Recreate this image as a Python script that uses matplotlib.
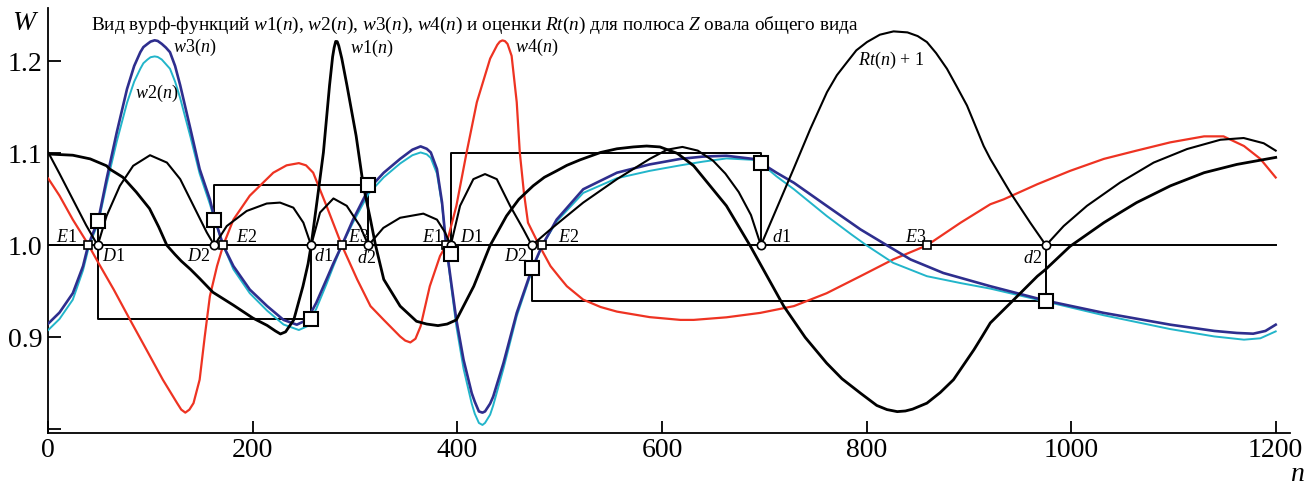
import matplotlib
matplotlib.use("Agg")
import matplotlib.pyplot as plt

plt.rcParams.update({
    "font.family": "Liberation Serif",
    "mathtext.fontset": "custom",
    "mathtext.rm": "Liberation Serif",
    "mathtext.it": "Liberation Serif:italic",
    "mathtext.bf": "Liberation Serif:bold",
})

# w1(n), black
n_w1 = [0, 24, 41, 57, 60, 73, 86, 99, 108, 116, 124, 130, 139, 148, 161, 181, 200, 214, 222,
        227, 232, 240, 249, 254, 257, 263, 269, 275, 278, 279.5, 281, 282.5, 284, 287, 292, 301,
        308, 315, 320, 328, 344, 360, 370, 381, 390, 399, 416, 432, 448, 460, 474, 485, 497, 507,
        520, 540, 556, 572, 585, 598, 615, 631, 663, 686, 700, 719, 740, 761, 776, 794, 810, 820,
        830, 838, 845, 859, 872, 885, 905, 913, 921, 934, 944, 967, 975, 999, 1032, 1048, 1064,
        1097, 1130, 1162, 1200]
w1 = [1.0993, 1.098, 1.094, 1.0865, 1.083, 1.074, 1.058, 1.040, 1.02, 1.0, 0.99, 0.983, 0.974,
      0.964, 0.949, 0.935, 0.921, 0.913, 0.907, 0.9037, 0.906, 0.919, 0.9556, 0.98, 1.0, 1.05,
      1.101, 1.174, 1.205, 1.215, 1.2217, 1.2215, 1.217, 1.203, 1.174, 1.119, 1.065, 1.028, 1.0,
      0.963, 0.934, 0.9175, 0.9145, 0.9128, 0.9145, 0.919, 0.9556, 1.0, 1.032, 1.05, 1.0647,
      1.074, 1.081, 1.087, 1.093, 1.101, 1.105, 1.107, 1.108, 1.107, 1.1, 1.0865, 1.043, 1.0,
      0.972, 0.934, 0.9, 0.872, 0.855, 0.8394, 0.826, 0.8215, 0.8193, 0.820, 0.822, 0.8285,
      0.84, 0.854, 0.8866, 0.901, 0.9157, 0.93, 0.941, 0.9665, 0.9738, 0.999, 1.0247, 1.0357,
      1.0465, 1.0647, 1.079, 1.088, 1.0956]

# w2(n), cyan
n_w2 = [0, 11, 24, 34, 40, 49, 57, 67, 77, 84, 90, 93, 97, 100, 104, 107, 111, 115, 119, 124,
        129, 139, 148, 158, 162, 171, 181, 197, 214, 230, 245, 253, 262, 272, 279, 287, 298, 313,
        328, 344, 356, 364, 370, 374, 380, 385, 389, 394, 399, 406, 414, 417, 421, 424.5, 427,
        432, 435, 445, 458, 473, 483, 497, 523, 556, 588, 618, 640, 663, 689, 697, 712, 729, 761,
        785, 800, 826, 859, 892, 921, 975, 1032, 1097, 1140, 1169, 1185, 1200]
w2 = [0.908, 0.92, 0.941, 0.973, 1.0, 1.025, 1.066, 1.113, 1.155, 1.178, 1.192, 1.198, 1.202,
      1.2045, 1.2054, 1.2048, 1.202, 1.197, 1.192, 1.178, 1.16, 1.118, 1.078, 1.045, 1.03, 1.0,
      0.974, 0.948, 0.929, 0.914, 0.908, 0.912, 0.931, 0.958, 0.978, 1.0, 1.025, 1.056, 1.074,
      1.089, 1.098, 1.101, 1.099, 1.095, 1.078, 1.044, 1.0, 0.955, 0.912, 0.866, 0.828, 0.817,
      0.807, 0.8048, 0.807, 0.816, 0.826, 0.866, 0.923, 0.973, 1.0, 1.026, 1.057, 1.073, 1.081,
      1.087, 1.091, 1.0945, 1.093, 1.089, 1.075, 1.061, 1.032, 1.012, 1.0, 0.981, 0.9665, 0.959,
      0.953, 0.939, 0.924, 0.909, 0.901, 0.8975, 0.899, 0.9065]

# w3(n), dark blue
n_w3 = [0, 11, 24, 34, 39, 49, 57, 67, 77, 84, 90, 93, 97, 100, 104, 107, 111, 115, 119, 124,
        129, 139, 148, 158, 162, 171, 181, 197, 214, 230, 243, 253, 262, 272, 279, 287, 298, 313,
        328, 344, 356, 364, 370, 374, 380, 385, 389, 394, 399, 406, 414, 417, 421, 424.5, 427,
        432, 435, 445, 458, 473, 483, 497, 523, 556, 588, 618, 640, 663, 689, 697, 712, 729, 761,
        794, 820, 843, 875, 921, 975, 1032, 1097, 1140, 1162, 1178, 1190, 1200]
w3 = [0.915, 0.927, 0.948, 0.9775, 1.0, 1.028, 1.072, 1.123, 1.17, 1.195, 1.21, 1.2155, 1.219,
      1.2215, 1.2229, 1.2222, 1.219, 1.215, 1.21, 1.195, 1.174, 1.1265, 1.083, 1.05, 1.032, 1.0,
      0.9775, 0.952, 0.934, 0.919, 0.9138, 0.919, 0.9375, 0.963, 0.981, 1.0, 1.028, 1.061, 1.079,
      1.094, 1.104, 1.1076, 1.105, 1.101, 1.083, 1.0465, 1.0, 0.959, 0.919, 0.8757, 0.8394,
      0.83, 0.8195, 0.8182, 0.8195, 0.828, 0.8357, 0.872, 0.9266, 0.975, 1.0, 1.028, 1.061,
      1.079, 1.088, 1.094, 1.0965, 1.0974, 1.094, 1.0895, 1.079, 1.068, 1.043, 1.0174, 1.0,
      0.9847, 0.97, 0.9556, 0.94, 0.9266, 0.9138, 0.907, 0.9048, 0.904, 0.907, 0.9138]

# w4(n), red
n_w4 = [0, 11, 24, 38, 49, 64, 80, 96, 112, 126, 130, 134, 138, 142, 148, 153, 158, 165, 171,
        181, 197, 220, 233, 245, 252, 259, 272, 287, 302, 315, 328, 344, 349, 354, 359, 364, 373,
        383, 389, 399, 409, 419, 432, 439, 441.5, 444, 446.5, 449, 453, 458, 461, 465, 469, 480,
        491, 500, 507, 523, 540, 556, 588, 618, 631, 663, 696, 729, 761, 794, 826, 859, 892, 921,
        934, 967, 999, 1032, 1064, 1097, 1130, 1149, 1169, 1185, 1200]
w4 = [1.0727, 1.054, 1.028, 1.003, 0.981, 0.952, 0.919, 0.8866, 0.854, 0.8285, 0.8215, 0.8182,
      0.8215, 0.8285, 0.854, 0.901, 0.9447, 0.9775, 1.0, 1.028, 1.054, 1.079, 1.087, 1.0894,
      1.087, 1.079, 1.043, 1.0, 0.963, 0.934, 0.919, 0.901, 0.8965, 0.8945, 0.8985, 0.912,
      0.9556, 0.9884, 1.0, 1.043, 1.101, 1.1556, 1.203, 1.218, 1.2215, 1.2228, 1.222, 1.219,
      1.206, 1.1556, 1.101, 1.0575, 1.0247, 1.0, 0.9775, 0.965, 0.9556, 0.941, 0.933, 0.928,
      0.922, 0.919, 0.919, 0.9218, 0.9266, 0.934, 0.948, 0.9665, 0.9847, 1.0, 1.0247, 1.0447,
      1.05, 1.0665, 1.081, 1.094, 1.103, 1.112, 1.1185, 1.1185, 1.108, 1.094, 1.0738]

# Rt(n) + 1, black
n_rt = [0, 11, 24, 37, 48.3, 57, 70, 83, 99.5, 116, 129, 142, 155, 162.4, 174.5, 194, 213.6,
        226.6, 239.6, 249.4, 257, 265.7, 278.8, 291.8, 304.8, 313, 327.6, 344, 366.7, 380, 388,
        393.5, 402.6, 415.6, 427, 438.5, 451.5, 464.5, 472.8, 491, 507, 523, 556, 588, 605, 620,
        635, 650, 662, 675, 687, 696.7, 709, 728.6, 745, 761.3, 771, 780.8, 790, 800.4, 813,
        826.4, 840, 850, 859, 868, 878.6, 888, 898.2, 906, 914.5, 921, 940.5, 960, 975.4, 992.7,
        1015.5, 1048, 1080.7, 1113.3, 1145.9, 1168.7, 1188.3, 1200]
rt = [1.101, 1.078, 1.05, 1.022, 1.0, 1.032, 1.0647, 1.0865, 1.098, 1.09, 1.072, 1.043, 1.014,
      1.0, 1.021, 1.0374, 1.0455, 1.0465, 1.041, 1.0247, 1.0, 1.0357, 1.051, 1.043, 1.021, 1.0,
      1.019, 1.03, 1.0345, 1.028, 1.014, 1.0, 1.043, 1.072, 1.0775, 1.072, 1.043, 1.0174, 1.0,
      1.0174, 1.032, 1.0465, 1.072, 1.094, 1.104, 1.107, 1.103, 1.092, 1.078, 1.058, 1.033, 1.0,
      1.032, 1.083, 1.1265, 1.1665, 1.185, 1.199, 1.212, 1.221, 1.229, 1.2326, 1.2315, 1.2275,
      1.221, 1.209, 1.192, 1.173, 1.152, 1.131, 1.108, 1.094, 1.0575, 1.0247, 1.0, 1.021, 1.043,
      1.0684, 1.09, 1.1047, 1.1148, 1.1167, 1.111, 1.103]

# points on the line W = 1
e_n = [38.5, 171, 287, 389.2, 483, 859]
d_n = [48.3, 162.4, 257, 313, 393.5, 472.8, 696.7, 975.4]

# big squares
sq_n = [48.3, 162.4, 257, 313, 393.5, 472.8, 696.7, 975.4]
sq_w = [1.0265, 1.028, 0.92, 1.0655, 0.991, 0.975, 1.0895, 0.94]

# estimate frames (n, W polylines)
frames_n = [[48.3, 48.3, 257, 257], [162.4, 162.4, 313, 313],
            [393.5, 393.5, 696.7, 696.7], [472.8, 472.8, 975.4, 975.4]]
frames_w = [[1.0265, 0.92, 0.92, 1.0], [1.0, 1.0655, 1.0655, 1.0],
            [1.0, 1.1, 1.1, 1.0], [1.0, 0.94, 0.94, 1.0]]

fig = plt.figure(figsize=(13.15, 4.86), dpi=100)
ax = fig.add_axes([0.0367, 0.1097, 0.9443, 0.8738])

ax.plot([0, 1200], [1, 1], color="black", lw=1.4, zorder=2)
for fx, fy in zip(frames_n, frames_w):
    ax.plot(fx, fy, color="black", lw=1.4, zorder=2)

ax.plot(n_w4, w4, color="#EE3322", lw=1.6, zorder=3)
ax.plot(n_w2, w2, color="#22B5CA", lw=1.4, zorder=3)
ax.plot(n_w3, w3, color="#2E2E8E", lw=1.9, zorder=4)
ax.plot(n_rt, rt, color="black", lw=1.5, zorder=4)
ax.plot(n_w1, w1, color="black", lw=2.0, zorder=4)

ax.plot(e_n, [1.0] * len(e_n), "s", ms=6, mfc="white", mec="black", mew=1.2, zorder=6)
ax.plot(d_n, [1.0] * len(d_n), "o", ms=6, mfc="white", mec="black", mew=1.2, zorder=6)
ax.plot(sq_n, sq_w, "s", ms=10, mfc="white", mec="black", mew=1.5, zorder=6)

fs = 13
ax.text(41.5, 1.2337, "Вид вурф-функций $w1(n)$, $w2(n)$, $w3(n)$, $w4(n)$ и оценки $Rt(n)$ "
        "для полюса $Z$ овала общего вида", fontsize=13.9, va="baseline")
ax.text(122, 1.2155, "$w3(n)$", fontsize=fs, va="center")
ax.text(84.8, 1.165, "$w2(n)$", fontsize=fs, va="center")
ax.text(295, 1.2145, "$w1(n)$", fontsize=fs, va="center")
ax.text(456.5, 1.2155, "$w4(n)$", fontsize=fs, va="center")
ax.text(792, 1.201, "$Rt(n)$ + 1", fontsize=fs, va="center")

# point labels: (text, n, W, ha)
point_labels = [("E1", 28, 1.0084, "right"), ("D1", 52.2, 0.988, "left"),
                ("D2", 158.8, 0.988, "right"), ("E2", 183.6, 1.0084, "left"),
                ("d1", 259.9, 0.988, "left"), ("E3", 293.4, 1.0084, "left"),
                ("d2", 301.6, 0.986, "left"), ("E1", 386.4, 1.0084, "right"),
                ("D1", 402.6, 1.0084, "left"), ("D2", 467.9, 0.988, "right"),
                ("E2", 498.8, 1.0084, "left"), ("d1", 707.5, 1.0084, "left"),
                ("E3", 837.8, 1.0084, "left"), ("d2", 971.5, 0.986, "right")]
for txt, x, y, ha in point_labels:
    ax.text(x, y, "$%s$" % txt, fontsize=fs, ha=ha, va="center", zorder=7)

ax.set_xlim(0, 1214)
ax.set_ylim(0.7964, 1.258)
ax.set_xticks([0, 200, 400, 600, 800, 1000, 1200])
ax.set_yticks([0.8, 0.9, 1.0, 1.1, 1.2])
ax.set_yticklabels(["", "0.9", "1.0", "1.1", "1.2"])
ax.tick_params(direction="in", length=9, width=1.3, labelsize=20, pad=4)
for side in ["top", "right"]:
    ax.spines[side].set_visible(False)
for side in ["left", "bottom"]:
    ax.spines[side].set_linewidth(1.3)

fig.text(12 / 1315, 1 - 23 / 486, "$W$", fontsize=20, va="center")
fig.text(1297 / 1315, 1 - 474 / 486, "$n$", fontsize=20, ha="center", va="center")

fig.savefig("out.png", dpi=100)
